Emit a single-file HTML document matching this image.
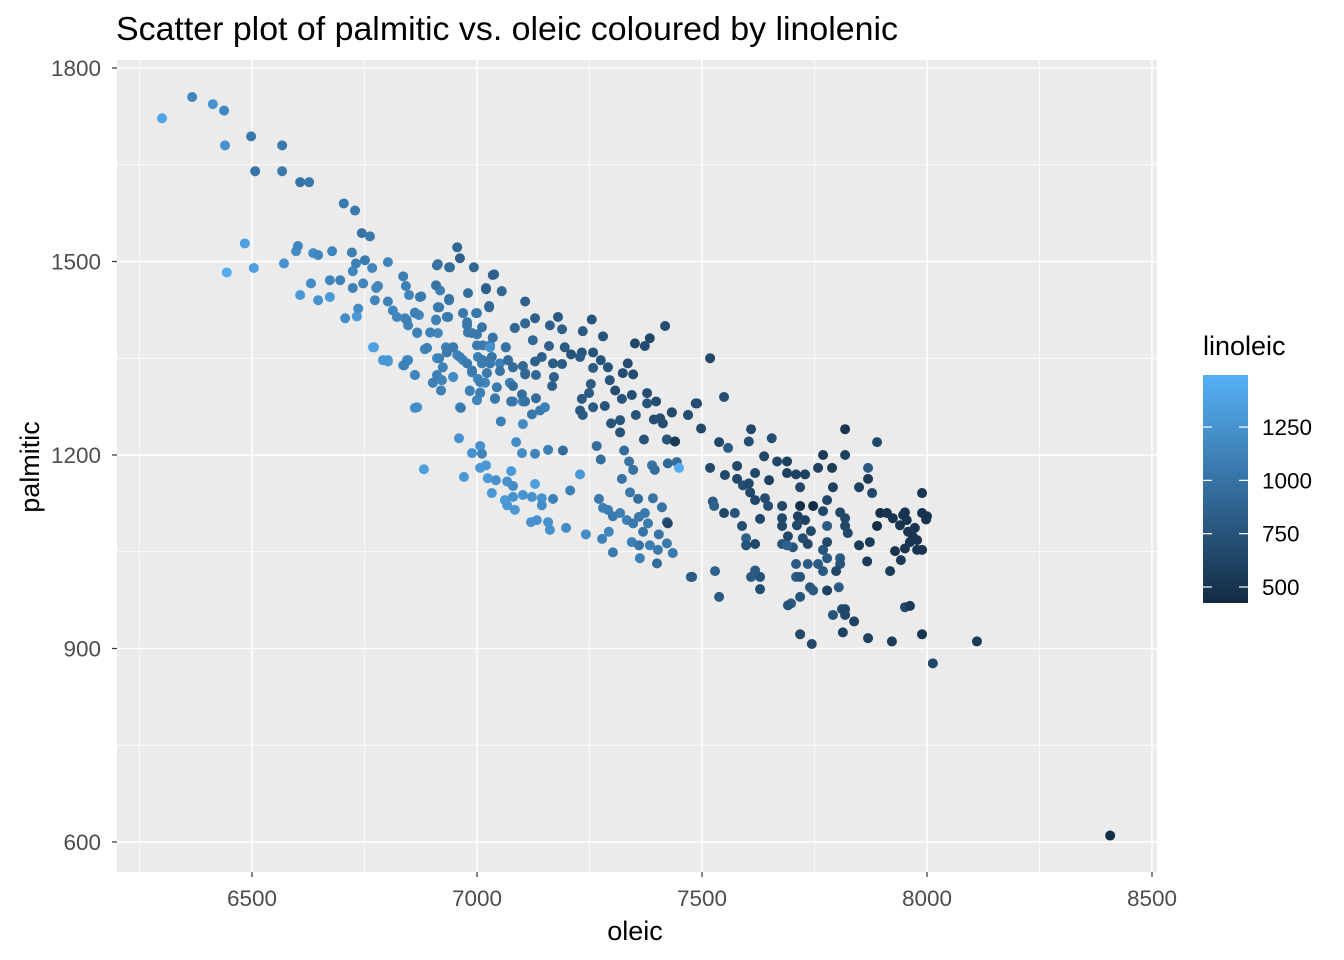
<!DOCTYPE html>
<html><head><meta charset="utf-8">
<style>
html,body{margin:0;padding:0;background:#fff;}
svg{display:block;font-family:"Liberation Sans",Arial,sans-serif;}
</style></head>
<body>
<svg id="chart" width="1344" height="960" xmlns="http://www.w3.org/2000/svg">
<rect x="0" y="0" width="1344" height="960" fill="#ffffff"/>
<text x="116" y="40" font-size="33" fill="#000" textLength="782" lengthAdjust="spacingAndGlyphs">Scatter plot of palmitic vs. oleic coloured by linolenic</text>
<rect x="117" y="60" width="1040" height="812" fill="#EBEBEB"/>
<g id="grid"></g>
<g id="points"></g>
<g id="axes"></g>
<text x="635" y="940" font-size="27" text-anchor="middle" fill="#000">oleic</text>
<text x="0" y="0" font-size="27" text-anchor="middle" fill="#000" transform="translate(39,467) rotate(-90)">palmitic</text>
<text x="1203" y="355" font-size="27" fill="#000">linoleic</text>
<defs><linearGradient id="cb" x1="0" y1="1" x2="0" y2="0"><stop offset="0" stop-color="#132B43"/><stop offset="1" stop-color="#56B1F7"/></linearGradient></defs>
<rect x="1203" y="375" width="45" height="228" fill="url(#cb)"/>
<g id="legend"></g>
</svg>
<script>
const xTicks=[6500,7000,7500,8000,8500];
const xMinor=[6250,6750,7250,7750,8250];
const yTicks=[600,900,1200,1500,1800];
const yMinor=[750,1050,1350,1650];
const legendTicks=[500,750,1000,1250];
const colorLimits=[425,1494];
const oleic=[6300,6367,6413,6438,6440,6498,6507,6567,6567,6607,6627,6704,6729,6484,6444,6504,6571,6598,6602,6607,6636,6647,6678,6673,6647,6631,6722,6724,6731,6744,6762,6751,6767,6802,6776,6707,6733,6771,6802,6736,
6673,6696,6724,6747,6780,6773,6802,6813,6822,6836,6842,6849,6876,6862,6871,6840,6847,6867,6909,6918,6911,6938,6938,6916,6909,6936,6969,6998,7027,7020,7035,7055,6896,6913,6884,6911,6931,6947,6978,6980,7000,7013,7029,7035,7064,7084,7107,6867,6769,6791,6802,6844,6836,6862,6902,6922,6920,6947,6956,6969,6989,7002,7011,7022,7051,7069,7080,7107,7073,7080,7102,7040,7018,7007,7000,6984,7002,6962,
6956,6962,6913,6940,6993,7038,7020,7055,6980,6909,6873,6938,7107,7027,7000,6969,6913,6933,6909,6862,6844,6867,6896,6978,7011,6989,7035,7084,7107,7129,7180,7162,7189,7255,7235,7280,7418,7384,7351,7373,7124,7160,7195,7209,7233,7229,7258,7275,7258,7291,7335,7324,7347,7295,7307,7322,7344,7378,7378,7398,7353,7393,7407,7413,7433,7469,7486,7371,7422,7440,7318,7298,7318,7253,7249,7233,7258,7284,7229,7235,7169,7189,7171,7167,7144,7129,7131,7102,7107,7080,7080,7100,7107,7131,7076,7040,7051,7044,7069,7064,7033,7029,7022,7007,7007,7000,6984,6989,6978,6962,6947,6924,6911,6922,6902,6920,6947,6862,6847,6838,6889,6916,6933,7000,7013,7029,6862,6964,7140,7122,7151,7053,7102,6960,7007,6989,7011,7087,7100,7129,7158,7191,7266,7275,7327,7338,7347,7322,7340,7358,7389,7395,7424,7444,7449,6882,6971,7007,7020,7024,7042,7067,7076,7080,7129,7033,7062,7067,7084,7080,7102,7122,7144,7144,7169,7207,7229,7120,7133,7158,7162,7198,7242,7278,7293,7302,7271,7280,7291,7302,7318,7333,7347,7360,7373,7380,7369,7391,7411,7404,7422,7402,7384,7362,7344,7360,7435,7400,7475,7422,7424,
7518,7549,7489,7469,7433,7498,7609,7655,7604,7538,7558,7422,7440,7818,7889,7638,7667,7689,7769,7818,7578,7518,7551,7618,7649,7689,7709,7729,7758,7789,7869,7718,7791,7849,7869,7878,7578,7591,7604,7607,7618,7640,7647,7524,7527,7549,7573,7589,7629,7678,7678,7678,7718,7713,7729,7711,7747,7769,7778,7778,7807,7818,7818,7824,7742,7724,7735,7691,7702,7678,7689,7598,7598,7618,7778,7769,7778,7807,7807,7798,7769,7758,7735,7709,7709,7718,7629,7609,7618,7529,7478,7538,7629,7740,7747,7778,7804,7718,7698,7691,7718,7744,7791,7811,7818,7818,7838,7813,7869,7922,7989,8111,8013,7951,7962,7849,7873,7867,7918,7942,7929,7889,7896,7911,7924,7940,7951,7955,7958,7969,7978,7962,7978,7989,7989,8000,7989,8407,7947,7973,7951,7998];
const palmitic=[1722,1755,1744,1734,1680,1694,1640,1680,1640,1623,1623,1590,1579,1528,1483,1490,1497,1516,1524,1448,1513,1510,1516,1445,1440,1466,1514,1485,1497,1544,1539,1502,1490,1499,1459,1412,1415,1367,1347,1427,
1471,1471,1459,1466,1462,1440,1438,1424,1414,1477,1462,1448,1446,1421,1417,1412,1401,1389,1463,1455,1494,1491,1442,1429,1410,1414,1420,1420,1431,1459,1479,1454,1390,1389,1364,1350,1367,1367,1406,1390,1387,1370,1370,1382,1367,1397,1404,1274,1367,1347,1345,1347,1339,1324,1312,1316,1300,1321,1355,1347,1328,1352,1342,1327,1342,1347,1336,1327,1312,1283,1283,1288,1312,1297,1285,1300,1318,1274,
1522,1505,1496,1491,1491,1480,1457,1454,1451,1463,1445,1440,1438,1429,1420,1420,1429,1414,1409,1420,1409,1390,1390,1401,1398,1389,1382,1397,1404,1412,1414,1401,1395,1410,1392,1384,1400,1381,1373,1369,1378,1369,1367,1356,1359,1352,1359,1347,1335,1336,1342,1327,1325,1316,1300,1287,1293,1296,1280,1283,1262,1255,1257,1249,1266,1262,1280,1224,1224,1221,1235,1249,1254,1310,1296,1287,1274,1276,1269,1262,1342,1341,1321,1307,1352,1345,1324,1338,1325,1336,1307,1294,1283,1288,1283,1287,1330,1305,1347,1367,1352,1342,1327,1313,1296,1285,1299,1331,1342,1352,1367,1336,1324,1316,1312,1300,1321,1324,1347,1339,1366,1350,1359,1370,1347,1367,1273,1273,1269,1263,1274,1252,1248,1226,1214,1203,1202,1220,1203,1202,1208,1207,1214,1193,1207,1190,1177,1163,1142,1132,1184,1177,1187,1189,1180,1178,1166,1180,1184,1164,1161,1159,1175,1152,1155,1141,1130,1122,1115,1135,1138,1135,1133,1122,1132,1145,1170,1096,1099,1096,1084,1087,1077,1070,1081,1049,1132,1118,1115,1105,1110,1099,1094,1104,1110,1094,1081,1133,1119,1077,1063,1053,1060,1040,1065,1060,1048,1032,1011,1096,1094,
1350,1290,1280,1262,1266,1241,1240,1226,1221,1220,1211,1224,1221,1240,1220,1198,1190,1190,1200,1200,1183,1180,1169,1172,1161,1172,1170,1170,1180,1180,1180,1150,1150,1150,1163,1141,1163,1153,1156,1142,1130,1133,1121,1128,1121,1110,1110,1090,1101,1121,1102,1090,1121,1105,1099,1091,1121,1113,1130,1090,1111,1102,1090,1079,1082,1071,1062,1074,1057,1062,1060,1071,1060,1062,1065,1053,1040,1040,1031,1020,1020,1031,1031,1031,1011,1011,1011,1011,1021,1020,1011,980,992,995,990,990,995,980,970,967,922,907,952,961,961,952,942,925,916,911,922,911,877,964,966,1060,1065,1035,1020,1037,1051,1090,1110,1110,1102,1091,1111,1099,1081,1073,1068,1065,1053,1053,1110,1105,1141,610,1107,1087,1055,1100];
const linoleic=[1400,1150,1250,1150,1250,1050,1000,1050,1050,1000,1050,1050,1050,1350,1450,1350,1250,1200,1150,1300,1200,1150,1150,1300,1250,1200,1100,1150,1100,1000,1050,1050,1150,1150,1150,1200,1300,1300,1250,1200,
1150,1100,1100,1150,1150,1150,1100,1150,1150,1100,1100,1150,1100,1150,1150,1150,1150,1200,1100,1100,950,950,1050,1100,1100,1050,1050,1050,950,950,900,950,1150,1150,1150,1200,1100,1100,1050,1050,1050,1050,1050,1000,1050,950,950,1250,1350,1300,1300,1250,1250,1250,1200,1200,1250,1150,1150,1150,1150,1100,1100,1150,1100,1050,1100,1050,1100,1150,1100,1150,1150,1200,1200,1200,1150,1300,
900,850,1000,950,900,850,850,900,950,1000,1050,1000,850,900,1050,1050,1050,1050,1100,1100,1100,1100,1100,1050,1000,1050,1000,900,900,850,800,850,850,750,800,750,700,650,650,700,900,850,800,750,750,800,750,750,800,750,700,700,700,750,700,750,700,700,750,700,750,700,700,700,650,650,650,750,700,700,750,750,750,800,800,800,800,750,800,800,800,800,850,850,850,850,900,900,900,950,950,950,1000,950,1000,1050,1000,1050,950,1000,1000,1050,1050,1100,1100,1150,1100,1050,1050,1100,1050,1100,1100,1150,1100,1100,1200,1150,1150,1100,1100,1100,1050,1050,1050,1250,1200,1050,1050,1050,1100,1100,1200,1250,1250,1250,1150,1200,1200,1150,1100,950,950,950,950,1000,1000,1000,1050,950,1000,950,900,950,1450,1350,1300,1300,1300,1300,1250,1250,1300,1200,1350,1300,1300,1300,1300,1250,1250,1250,1250,1200,1100,1100,1300,1250,1250,1250,1250,1200,1200,1100,1150,1050,1050,1100,1100,1050,1100,1100,1050,1050,1050,1050,1000,1000,1000,1000,1050,1050,1100,1100,1100,1000,1050,950,950,950,
650,650,700,700,700,650,650,650,700,700,650,800,750,550,500,650,650,650,600,550,600,650,650,650,650,600,600,600,600,600,550,800,650,600,600,550,650,650,700,650,650,650,700,700,800,850,650,750,700,650,650,650,650,450,600,600,650,450,650,650,800,650,650,650,650,650,700,650,650,750,750,850,850,750,650,650,750,800,800,750,650,800,800,800,800,800,750,750,800,800,850,800,800,700,750,800,600,800,750,800,750,650,650,750,700,650,650,600,600,600,550,500,550,650,650,550,550,550,550,550,550,500,450,450,500,500,500,500,500,500,500,500,500,500,500,500,500,500,450,500,500,500,500];

const NS="http://www.w3.org/2000/svg";
const PX0=117,PX1=1157,PY0=60,PY1=872;
function sx(v){return 252+(v-6500)*0.45;}
function sy(v){return 455-(v-1200)*0.645;}
function col(v){
  let t=(v-colorLimits[0])/(colorLimits[1]-colorLimits[0]);t=Math.max(0,Math.min(1,t));
  const a=[0x13,0x2B,0x43],b=[0x56,0xB1,0xF7];
  return "rgb("+a.map((c,i)=>Math.round(c+(b[i]-c)*t)).join(",")+")";
}
function mk(tag,attrs,parent){const e=document.createElementNS(NS,tag);for(const k in attrs)e.setAttribute(k,attrs[k]);parent.appendChild(e);return e;}
const grid=document.getElementById('grid');
xMinor.forEach(v=>{const l=mk('line',{x1:sx(v),x2:sx(v),y1:PY0,y2:PY1,stroke:'#fff','stroke-width':0.7},grid);

});
yMinor.forEach(v=>{const l=mk('line',{x1:PX0,x2:PX1,y1:sy(v),y2:sy(v),stroke:'#fff','stroke-width':0.7},grid);

});
xTicks.forEach(v=>{const l=mk('line',{x1:sx(v),x2:sx(v),y1:PY0,y2:PY1,stroke:'#fff','stroke-width':1.5},grid);

});
yTicks.forEach(v=>{const l=mk('line',{x1:PX0,x2:PX1,y1:sy(v),y2:sy(v),stroke:'#fff','stroke-width':1.5},grid);

});
const pts=document.getElementById('points');
for(let i=0;i<oleic.length;i++){
  const c=mk('circle',{cx:sx(oleic[i]),cy:sy(palmitic[i]),r:5,fill:col(linoleic[i])},pts);
  
  
}
const ax=document.getElementById('axes');
xTicks.forEach(v=>{
  const t=mk('line',{x1:sx(v),x2:sx(v),y1:PY1,y2:PY1+5,stroke:'#333','stroke-width':1.2},ax);
  
  
  const tx=mk('text',{x:sx(v),y:906,'font-size':22.5,'text-anchor':'middle',fill:'#4D4D4D'},ax);tx.textContent=v;
  
  
});
yTicks.forEach(v=>{
  const t=mk('line',{x1:PX0-5,x2:PX0,y1:sy(v),y2:sy(v),stroke:'#333','stroke-width':1.2},ax);
  
  
  const tx=mk('text',{x:101,y:sy(v)+8,'font-size':22.5,'text-anchor':'end',fill:'#4D4D4D'},ax);tx.textContent=v;
  
  
});
const lg=document.getElementById('legend');
function ly(v){return 603-(v-colorLimits[0])/(colorLimits[1]-colorLimits[0])*228;}
legendTicks.forEach(v=>{
  const a=mk('line',{x1:1203,x2:1212,y1:ly(v),y2:ly(v),stroke:'#fff','stroke-width':1.2},lg);
  
  
  const b=mk('line',{x1:1239,x2:1248,y1:ly(v),y2:ly(v),stroke:'#fff','stroke-width':1.2},lg);
  
  
  const tx=mk('text',{x:1262,y:ly(v)+8,'font-size':22.5,fill:'#000'},lg);tx.textContent=v;
  
  
});
</script>
</body></html>
